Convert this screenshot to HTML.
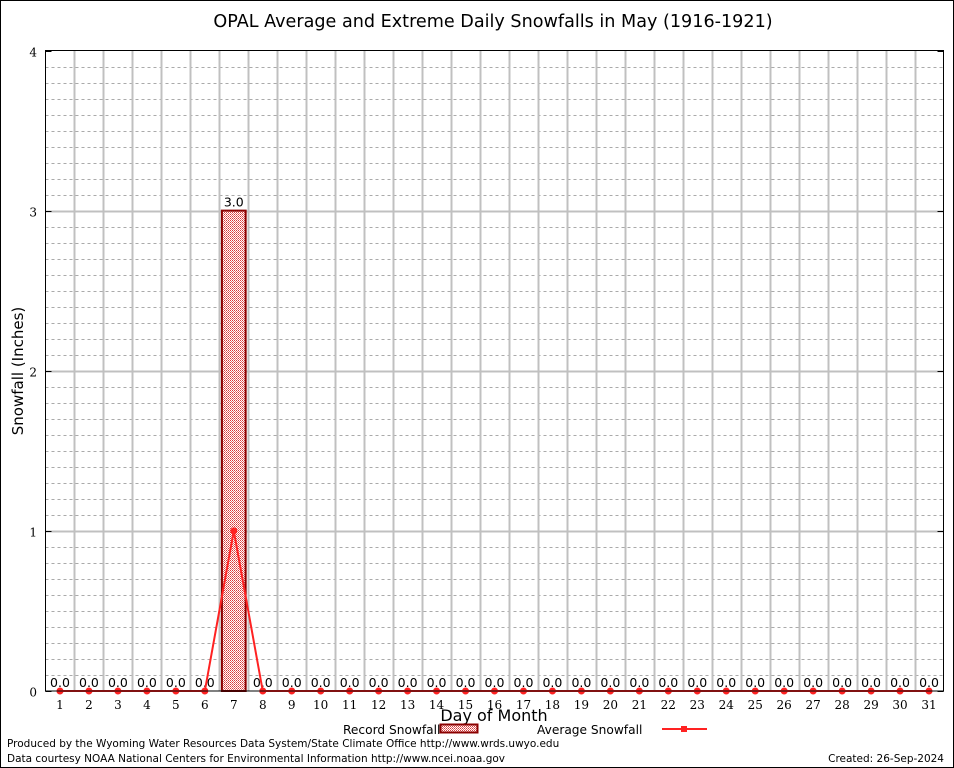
<!DOCTYPE html>
<html><head><meta charset="utf-8"><style>
html,body{margin:0;padding:0;background:#fff}
svg{display:block}
text{font-family:"DejaVu Sans","Liberation Sans",sans-serif}
.tick{font-family:"DejaVu Serif","Liberation Serif",serif;font-size:12px}
</style></head><body>
<svg id="chart" width="954" height="768">
<defs>
<pattern id="chk" width="2" height="2" patternUnits="userSpaceOnUse">
<rect width="2" height="2" fill="#fff"/><rect width="1" height="1" fill="#d83838"/><rect x="1" y="1" width="1" height="1" fill="#e87070"/>
</pattern>
</defs>
<rect x="0.5" y="0.5" width="953" height="767" fill="#fff" stroke="#000"/>
<text x="493" y="27" font-size="17.6" text-anchor="middle">OPAL Average and Extreme Daily Snowfalls in May (1916-1921)</text>
<g id="grid"></g>
<g id="bars"></g>
<g id="line"></g>
<rect x="45.5" y="50.5" width="898" height="640.5" fill="none" stroke="#000"/>
<g id="axes"></g>
<text x="23" y="371" font-size="15" text-anchor="middle" transform="rotate(-90 23 371)">Snowfall (Inches)</text>
<text x="494" y="721" font-size="16" text-anchor="middle">Day of Month</text>
<g>
<text x="343" y="734" font-size="12.2">Record Snowfall</text>
<rect x="440.5" y="724.5" width="37" height="8" fill="url(#chk)" stroke="#8b0000" stroke-width="2"/>
<text x="537" y="734" font-size="12.2">Average Snowfall</text>
<line x1="662" y1="729" x2="707" y2="729" stroke="#f22" stroke-width="2"/>
<rect x="681" y="726" width="6" height="6" fill="#f22"/>
</g>
<text x="7" y="747" font-size="10.5">Produced by the Wyoming Water Resources Data System/State Climate Office http://www.wrds.uwyo.edu</text>
<text x="7" y="762" font-size="10.5">Data courtesy NOAA National Centers for Environmental Information http://www.ncei.noaa.gov</text>
<text x="944" y="762" font-size="10.5" text-anchor="end">Created: 26-Sep-2024</text>
</svg>
<script>
const days = Array.from({length:31},(_,i)=>i+1);
const recordValues = [0,0,0,0,0,0,3.0,0,0,0,0,0,0,0,0,0,0,0,0,0,0,0,0,0,0,0,0,0,0,0,0];
const averageValues = [0,0,0,0,0,0,1.0,0,0,0,0,0,0,0,0,0,0,0,0,0,0,0,0,0,0,0,0,0,0,0,0];
const yTicks = [0,1,2,3,4];
const NS="http://www.w3.org/2000/svg";
const X0=45.5,X1=943.5,Y0=691,Y1=50.5,yMax=4;
const step=(X1-X0)/31;
const x=d=>X0+step*(d-0.5);
const y=v=>Y0-(Y0-Y1)*v/yMax;
function mk(tag,attrs,parent){const e=document.createElementNS(NS,tag);for(const k in attrs)e.setAttribute(k,attrs[k]);parent.appendChild(e);return e;}
const grid=document.getElementById('grid'),bars=document.getElementById('bars'),line=document.getElementById('line'),axes=document.getElementById('axes');
for(let i=1;i<yMax*10;i++){if(i%10===0)continue;const yy=Math.round(y(i/10))+0.5;
const l=mk('line',{x1:X0,x2:X1,y1:yy,y2:yy,stroke:'#aaa','stroke-dasharray':'3,3'},grid);

}
for(let d=1;d<31;d++){const xx=Math.round(X0+step*d)+0.5;
const l=mk('line',{x1:xx,x2:xx,y1:Y1,y2:Y0,stroke:'#c0c0c0','stroke-width':2},grid);

}
yTicks.forEach(t=>{const yy=Math.round(y(t))+0.5;
if(t>0&&t<yMax){const l=mk('line',{x1:X0,x2:X1,y1:yy,y2:yy,stroke:'#c0c0c0','stroke-width':2},grid);

}
const tk=mk('line',{x1:X0,x2:X0+6,y1:yy,y2:yy,stroke:'#000'},axes);


const tk2=mk('line',{x1:X1-6,x2:X1,y1:yy,y2:yy,stroke:'#000'},axes);


const tx=mk('text',{x:37,y:yy+5,'text-anchor':'end',class:'tick'},axes);tx.textContent=t;

});
days.forEach((d,i)=>{const cx=x(d);
const tx=mk('text',{x:cx,y:709,'text-anchor':'middle',class:'tick'},axes);tx.textContent=d;


const v=recordValues[i];const w=step*0.82;
if(v>0){const r=mk('rect',{x:cx-w/2,y:y(v),width:w,height:Y0-y(v),fill:'url(#chk)',stroke:'#8b0000','stroke-width':2},bars);

}
const lb=mk('text',{x:cx,y:y(v)-4,'text-anchor':'middle','font-size':12.5},bars);lb.textContent=v.toFixed(1);

});
const pts=days.map((d,i)=>x(d)+','+y(averageValues[i])).join(' ');
const pl=mk('polyline',{points:pts,fill:'none',stroke:'#f22','stroke-width':2},line);


days.forEach((d,i)=>{const m=mk('circle',{cx:x(d),cy:y(averageValues[i]),r:3.5,fill:'#f22'},line);

});
</script>
</body></html>
